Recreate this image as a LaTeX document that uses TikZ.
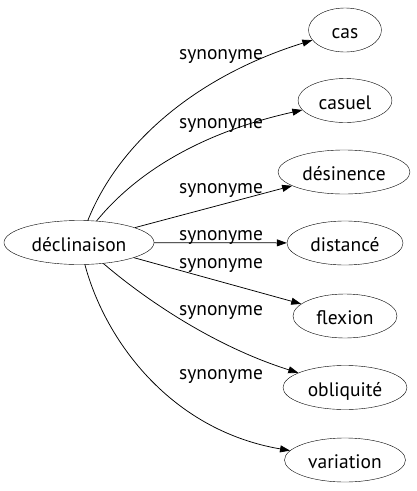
\documentclass[tikz,border=0pt]{standalone}
\usepackage{fontspec}
\setmainfont{PT Sans}
\usetikzlibrary{
    arrows.meta,
    shapes,
    positioning
}

\begin{document}
\begin{tikzpicture}[x=1pt, y=-1pt,
        word/.style={draw, ellipse, inner sep=0pt, minimum height=44pt, text height=17pt, text depth=0pt, font=\fontsize{19.5}{22}\selectfont},
        rel/.style={font=\fontsize{19.5}{22}\selectfont, anchor=base},
        link/.style={line width=0.75pt, -{Triangle[length=10pt, width=7pt]}}]
    \useasboundingbox (0, 0) rectangle (417, 491);

    % centre word and its synonyms
    \node[word, minimum width=150pt] (dec) at (79, 242.5) {déclinaison};
    \node[word, minimum width=73pt] (cas) at (345, 30) {cas};
    \node[word, minimum width=94pt] (casuel) at (345, 100.5) {casuel};
    \node[word, minimum width=132pt] (desin) at (344, 172) {désinence};
    \node[word, minimum width=116pt] (dist) at (345, 243) {distancé};
    \node[word, minimum width=104pt] (flex) at (345, 316) {flexion};
    \node[word, minimum width=124pt] (obliq) at (345, 387.5) {obliquité};
    \node[word, minimum width=121pt] (var) at (345, 460) {variation};

    % labels
    \node[rel] (l1) at (221, 59) {synonyme};
    \node[rel] (l2) at (221, 128) {synonyme};
    \node[rel] (l3) at (221, 193) {synonyme};
    \node[rel] (l4) at (221, 240) {synonyme};
    \node[rel] (l5) at (221, 268) {synonyme};
    \node[rel] (l6) at (221, 315) {synonyme};
    \node[rel] (l7) at (221, 379) {synonyme};

    % edges
    \draw[link] (dec) .. controls (120, 140) and (200, 75) .. (cas);
    \draw[link] (dec) .. controls (130, 180) and (190, 135) .. (casuel);
    \draw[link] (dec) -- (desin);
    \draw[link] (dec) -- (dist);
    \draw[link] (dec) -- (flex);
    \draw[link] (dec) .. controls (140, 295) and (210, 345) .. (obliq);
    \draw[link] (dec) .. controls (105, 340) and (170, 430) .. (var);
\end{tikzpicture}
\end{document}
